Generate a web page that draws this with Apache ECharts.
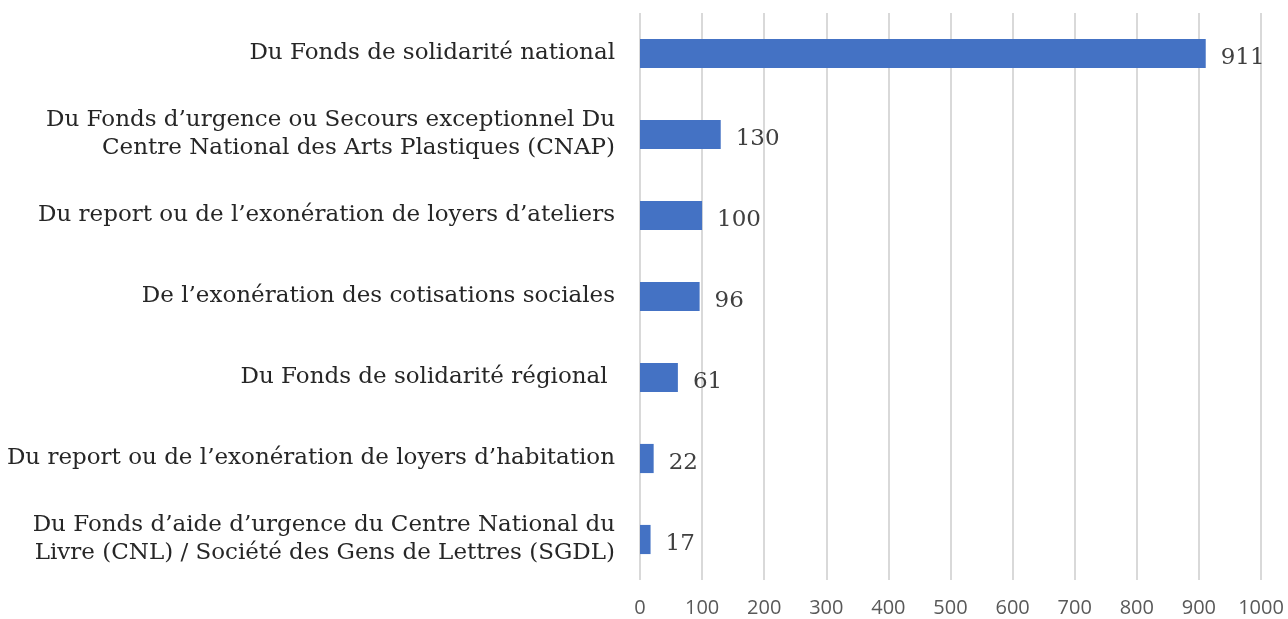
<!DOCTYPE html>
<html>
<head>
<meta charset="utf-8">
<script src="https://cdn.jsdelivr.net/npm/echarts@6/dist/echarts.min.js"></script>
<style>
  html, body { margin: 0; padding: 0; background: #fff; }
  #chart { width: 1288px; height: 619px; }
</style>
</head>
<body>
<div id="chart"></div>
<script>
// aid categories, top to bottom
var categories = [
  'Du Fonds de solidarité national',
  'Du Fonds d’urgence ou Secours exceptionnel Du\nCentre National des Arts Plastiques (CNAP)',
  'Du report ou de l’exonération de loyers d’ateliers',
  'De l’exonération des cotisations sociales',
  'Du Fonds de solidarité régional ',
  'Du report ou de l’exonération de loyers d’habitation',
  'Du Fonds d’aide d’urgence du Centre National du\nLivre (CNL) / Société des Gens de Lettres (SGDL)'
];
var counts = [911, 130, 100, 96, 61, 22, 17];

var serif = '"DejaVu Serif", "Liberation Serif", serif';

var chart = echarts.init(document.getElementById('chart'), null, { renderer: 'canvas' });

chart.setOption({
  backgroundColor: '#fff',
  animation: false,
  grid: { left: 640, right: 27, top: 13, bottom: 39, containLabel: false },
  xAxis: {
    type: 'value',
    min: 0,
    max: 1000,
    interval: 100,
    axisLine: { show: false },
    axisTick: { show: false },
    splitLine: { show: true, lineStyle: { color: '#d9d9d9', width: 2 } },
    axisLabel: {
      color: '#595959',
      fontSize: 20,
      fontFamily: '"Open Sans", sans-serif',
      margin: 18,
      formatter: function (v) { return String(v); }
    }
  },
  yAxis: {
    type: 'category',
    inverse: true,
    data: categories,
    axisLine: { show: false },
    axisTick: { show: false },
    axisLabel: {
      color: '#262626',
      fontSize: 23,
      lineHeight: 28,
      fontFamily: serif,
      margin: 25,
      align: 'right'
    }
  },
  series: [{
    type: 'bar',
    data: counts,
    barWidth: '36%',
    itemStyle: { color: '#4472c4' },
    label: {
      show: true,
      position: 'right',
      distance: 15,
      offset: [0, 5],
      color: '#404040',
      fontSize: 23,
      fontFamily: serif
    }
  }]
});
</script>
</body>
</html>
